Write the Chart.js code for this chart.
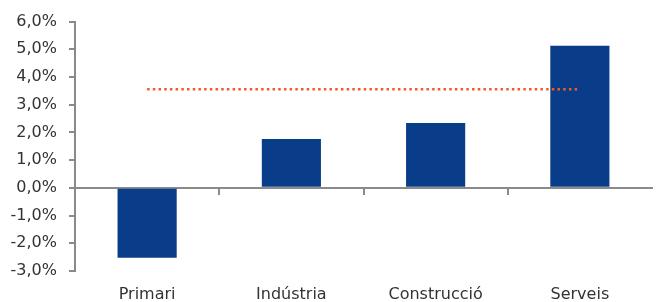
<!DOCTYPE html>
<html>
<head>
<meta charset="utf-8">
<script src="https://cdn.jsdelivr.net/npm/chart.js@4/dist/chart.umd.min.js"></script>
<style>
  html, body { margin: 0; padding: 0; background: #fff; }
  #wrap { width: 660px; height: 302px; }
</style>
</head>
<body>
<div id="wrap"><canvas id="chart"></canvas></div>
<script>
// dades del gràfic
const sectors = ['Primari', 'Indústria', 'Construcció', 'Serveis'];
const creixement = [-2.52, 1.76, 2.34, 5.13];
const mitjana = [3.56, 3.56, 3.56, 3.56];
const yTicks = [-3, -2, -1, 0, 1, 2, 3, 4, 5, 6];

const axisGray = '#8a8a8a';
const textColor = '#333333';
const font = { family: 'DejaVu Sans', size: 16 };

const ctx = document.getElementById('chart').getContext('2d');
new Chart(ctx, {
    data: {
        labels: sectors,
        datasets: [
            {
                type: 'line',
                data: mitjana,
                borderColor: '#f3592b',
                borderWidth: 2.5,
                borderDash: [2.5, 3.2],
                pointRadius: 0,
                fill: false,
                order: 0
            },
            {
                type: 'bar',
                data: creixement,
                backgroundColor: '#0a3d89',
                barPercentage: 0.41,
                categoryPercentage: 1,
                order: 1
            }
        ]
    },
    options: {
        responsive: true,
        maintainAspectRatio: false,
        animation: false,
        layout: { padding: { top: 21, right: 8, bottom: 0, left: 0 } },
        plugins: { legend: { display: false }, tooltip: { enabled: false } },
        scales: {
            x: {
                type: 'category',
                position: 'bottom',
                offset: true,
                grid: { display: false, drawTicks: false },
                border: { display: false },
                ticks: { color: textColor, font: font, padding: 14, maxRotation: 0 },
                afterFit: (scale) => { scale.height = 31; }
            },
            x2: {
                type: 'category',
                position: { y: 0 },
                offset: true,
                grid: {
                    offset: true,
                    drawOnChartArea: false,
                    tickLength: 6,
                    lineWidth: 2,
                    color: (c) => c.type === 'tick' ? axisGray : 'rgba(0,0,0,0)'
                },
                border: { color: axisGray, width: 2 },
                ticks: { display: false }
            },
            y: {
                min: -3,
                max: 6,
                afterBuildTicks: (scale) => { scale.ticks = yTicks.map(v => ({ value: v })); },
                afterFit: (scale) => { scale.width = 75; },
                grid: { drawOnChartArea: false, tickLength: 6, lineWidth: 2, color: axisGray },
                border: { color: axisGray, width: 2 },
                ticks: {
                    color: textColor,
                    font: font,
                    padding: 12,
                    callback: (v) => v.toFixed(1).replace('.', ',') + '%'
                }
            }
        }
    }
});
</script>
</body>
</html>
